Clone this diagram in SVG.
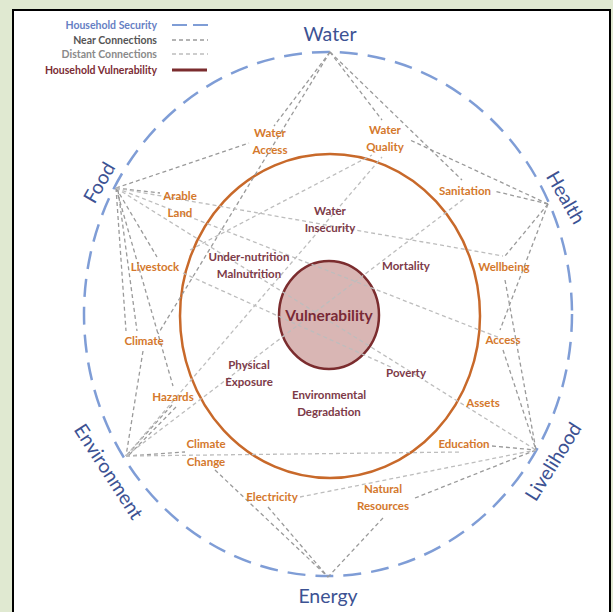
<svg xmlns="http://www.w3.org/2000/svg" width="613" height="612" viewBox="0 0 613 612">
  <style>
    .hub { font-family: Lato, "Liberation Sans", sans-serif; font-size: 19.5px; fill: #3c5293; text-anchor: middle; }
    .sub { font-family: Lato, "Liberation Sans", sans-serif; font-size: 11.5px; font-weight: bold; fill: #d4782c; text-anchor: middle; }
    .core { font-family: Lato, "Liberation Sans", sans-serif; font-size: 11.5px; font-weight: bold; fill: #7d3a48; text-anchor: middle; }
    .leg { font-family: Lato, "Liberation Sans", sans-serif; font-size: 10.5px; font-weight: bold; text-anchor: end; }
    .near { stroke: #9a9a9a; stroke-width: 1.3; stroke-dasharray: 4 3; fill: none; }
    .far { stroke: #bdbdbd; stroke-width: 1.3; stroke-dasharray: 4 3; fill: none; }
  </style>

  <!-- page and panel -->
  <rect x="0" y="0" width="613" height="612" fill="#e0e9d1"/>
  <rect x="13" y="10" width="597" height="610" fill="#ffffff" stroke="#000000" stroke-width="2"/>

  <!-- legend -->
  <g id="legend">
    <text class="leg" x="157" y="29" fill="#6680c4">Household Security</text>
    <line x1="172" y1="25" x2="213" y2="25" stroke="#7f9dd6" stroke-width="2" stroke-dasharray="15 6"/>
    <text class="leg" x="157" y="44" fill="#555555">Near Connections</text>
    <line x1="172" y1="40" x2="208" y2="40" class="near" stroke-dasharray="3 3"/>
    <text class="leg" x="157" y="58" fill="#8a8a8a">Distant Connections</text>
    <line x1="172" y1="54" x2="208" y2="54" class="far" stroke-dasharray="3 3"/>
    <text class="leg" x="157" y="74" fill="#7b2c34">Household Vulnerability</text>
    <line x1="172" y1="70" x2="207" y2="70" stroke="#7b2c2e" stroke-width="3"/>
  </g>

  <!-- household security ring -->
  <ellipse id="security-ring" cx="328" cy="314" rx="244" ry="262" fill="none" stroke="#7f9dd6" stroke-width="2.5" stroke-dasharray="18 10"/>

  <!-- household vulnerability ring -->
  <ellipse id="vulnerability-ring" cx="330" cy="316" rx="150" ry="162" fill="none" stroke="#c8692a" stroke-width="2.5"/>

  <!-- vulnerability core -->
  <g id="vulnerability">
    <ellipse cx="329" cy="315" rx="50" ry="54" fill="#d9b6b4" stroke="#7b2c2e" stroke-width="2.5"/>
  </g>

  <!-- connectors -->
  <g id="connectors">
    <!-- Water -->
    <line class="near" x1="330" y1="52" x2="274" y2="126"/>
    <line class="near" x1="330" y1="52" x2="382" y2="120"/>
    <line class="near" x1="330" y1="52" x2="462" y2="180"/>
    <line class="near" x1="330" y1="52" x2="158" y2="334"/>
    <!-- Food -->
    <line class="near" x1="116" y1="188" x2="249" y2="143"/>
    <line class="near" x1="116" y1="188" x2="160" y2="193"/>
    <line class="near" x1="116" y1="188" x2="157" y2="257"/>
    <line class="near" x1="116" y1="188" x2="126" y2="331"/>
    <line class="near" x1="118" y1="190" x2="137" y2="331"/>
    <line class="near" x1="116" y1="188" x2="173" y2="386"/>
    <line class="far" x1="116" y1="188" x2="503" y2="256"/>
    <line class="far" x1="116" y1="188" x2="536" y2="450"/>
    <line class="far" x1="116" y1="188" x2="500" y2="338"/>
    <line class="far" x1="183" y1="273" x2="393" y2="368"/>
    <line class="far" x1="190" y1="250" x2="372" y2="155"/>
    <!-- Health -->
    <line class="near" x1="548" y1="204" x2="494" y2="191"/>
    <line class="near" x1="548" y1="204" x2="410" y2="140"/>
    <line class="near" x1="548" y1="204" x2="505" y2="256"/>
    <line class="near" x1="548" y1="204" x2="500" y2="330"/>
    <!-- Livelihood -->
    <line class="near" x1="505" y1="280" x2="536" y2="450"/>
    <line class="near" x1="503" y1="350" x2="536" y2="450"/>
    <line class="near" x1="492" y1="446" x2="536" y2="450"/>
    <line class="near" x1="415" y1="498" x2="536" y2="450"/>
    <line class="far" x1="300" y1="497" x2="536" y2="450"/>
    <!-- Environment -->
    <line class="near" x1="143" y1="351" x2="126" y2="456"/>
    <line class="near" x1="172" y1="405" x2="126" y2="456"/>
    <line class="near" x1="176" y1="407" x2="128" y2="456"/>
    <line class="near" x1="126" y1="456" x2="185" y2="452"/>
    <line class="far" x1="126" y1="456" x2="382" y2="157"/>
    <line class="far" x1="126" y1="456" x2="465" y2="198"/>
    <line class="far" x1="126" y1="456" x2="462" y2="452"/>
    <!-- Energy -->
    <line class="near" x1="215" y1="470" x2="328" y2="577"/>
    <line class="near" x1="268" y1="507" x2="328" y2="577"/>
    <line class="near" x1="383" y1="518" x2="328" y2="577"/>
  </g>

  <!-- outer dimensions -->
  <g id="water"><text class="hub" x="330" y="41">Water</text></g>
  <g id="energy"><text class="hub" x="328" y="603">Energy</text></g>
  <g id="food"><text class="hub" transform="translate(100,183) rotate(-60)" y="6">Food</text></g>
  <g id="health"><text class="hub" transform="translate(565,198) rotate(60)" y="6">Health</text></g>
  <g id="environment"><text class="hub" transform="translate(108,472) rotate(57)" y="6">Environment</text></g>
  <g id="livelihood"><text class="hub" transform="translate(554,462) rotate(-58)" y="6">Livelihood</text></g>

  <!-- security factors -->
  <g id="water-access"><text class="sub" x="270" y="137">Water</text><text class="sub" x="270" y="154">Access</text></g>
  <g id="water-quality"><text class="sub" x="385" y="134">Water</text><text class="sub" x="385" y="151">Quality</text></g>
  <g id="sanitation"><text class="sub" x="465" y="195">Sanitation</text></g>
  <g id="arable-land"><text class="sub" x="180" y="200">Arable</text><text class="sub" x="180" y="217">Land</text></g>
  <g id="livestock"><text class="sub" x="155" y="271">Livestock</text></g>
  <g id="wellbeing"><text class="sub" x="504" y="271">Wellbeing</text></g>
  <g id="climate"><text class="sub" x="144" y="345">Climate</text></g>
  <g id="access"><text class="sub" x="503" y="344">Access</text></g>
  <g id="hazards"><text class="sub" x="173" y="401">Hazards</text></g>
  <g id="assets"><text class="sub" x="483" y="407">Assets</text></g>
  <g id="climate-change"><text class="sub" x="206" y="448">Climate</text><text class="sub" x="206" y="466">Change</text></g>
  <g id="education"><text class="sub" x="464" y="448">Education</text></g>
  <g id="electricity"><text class="sub" x="272" y="501">Electricity</text></g>
  <g id="natural-resources"><text class="sub" x="383" y="493">Natural</text><text class="sub" x="383" y="510">Resources</text></g>

  <!-- vulnerability factors -->
  <g id="water-insecurity"><text class="core" x="330" y="215">Water</text><text class="core" x="330" y="232">Insecurity</text></g>
  <g id="undernutrition"><text class="core" x="249" y="261">Under-nutrition</text><text class="core" x="249" y="278">Malnutrition</text></g>
  <g id="mortality"><text class="core" x="406" y="270">Mortality</text></g>
  <g id="physical-exposure"><text class="core" x="249" y="369">Physical</text><text class="core" x="249" y="386">Exposure</text></g>
  <g id="environmental-degradation"><text class="core" x="329" y="399">Environmental</text><text class="core" x="329" y="416">Degradation</text></g>
  <g id="poverty"><text class="core" x="406" y="377">Poverty</text></g>
  <g id="vulnerability-label"><text x="329" y="321" font-family="Lato, 'Liberation Sans', sans-serif" font-size="15.5" font-weight="bold" fill="#7a2a36" text-anchor="middle">Vulnerability</text></g>
</svg>
